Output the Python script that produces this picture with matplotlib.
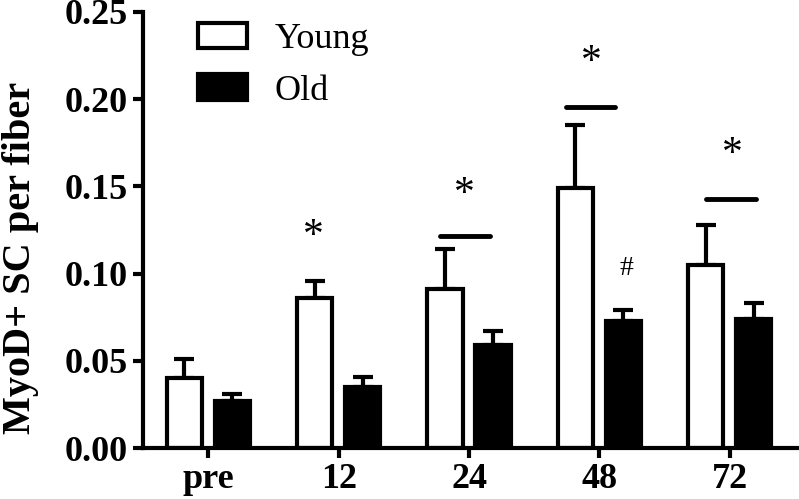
import matplotlib.pyplot as plt
import numpy as np
from matplotlib.patches import Patch

# Data
groups = ['pre', '12', '24', '48', '72']
young = [0.040, 0.086, 0.091, 0.149, 0.105]
young_err = [0.011, 0.010, 0.023, 0.036, 0.023]
old = [0.027, 0.035, 0.059, 0.073, 0.074]
old_err = [0.004, 0.006, 0.008, 0.006, 0.009]

# significance bars (x start, x end, y) and marks (x, y, text)
sig_x0 = [1.78, 2.74, 3.82]
sig_x1 = [2.16, 3.12, 4.20]
sig_y = [0.1217, 0.1953, 0.1426]
mark_x = [0.805, 1.962, 2.935, 4.023, 3.203]
mark_y = [0.121, 0.145, 0.221, 0.168, 0.103]
mark_txt = ['*', '*', '*', '*', '#']

plt.rcParams['font.family'] = ['Liberation Serif', 'DejaVu Serif']

fig = plt.figure(figsize=(7.99, 4.99), dpi=100)
ax = fig.add_axes([0.179, 0.102, 0.821, 0.874])

x = np.arange(len(groups))
w = 0.27
off = 0.184
lw = 3

ax.bar(x - off, young, w, color='white', edgecolor='black', linewidth=lw, zorder=2)
ax.bar(x + off, old, w, color='black', edgecolor='black', linewidth=lw, zorder=2)
ax.errorbar(x - off, young, yerr=[np.zeros(5), young_err], fmt='none', ecolor='black',
            elinewidth=lw, capsize=7.5, capthick=lw, zorder=1)
ax.errorbar(x + off, old, yerr=[np.zeros(5), old_err], fmt='none', ecolor='black',
            elinewidth=lw, capsize=7.5, capthick=lw, zorder=1)

for x0, x1, y in zip(sig_x0, sig_x1, sig_y):
    ax.plot([x0, x1], [y, y], color='black', lw=3.5, solid_capstyle='round')
for mx, my, t in zip(mark_x, mark_y, mark_txt):
    ax.text(mx, my, t, ha='center', va='center', fontsize=30 if t == '*' else 20)

ax.set_xlim(-0.5, 4.53)
ax.set_ylim(0, 0.25)
ax.set_yticks(np.arange(0, 0.26, 0.05))
ax.set_yticklabels([f'{v:.2f}' for v in np.arange(0, 0.26, 0.05)])
ax.set_xticks(x)
ax.set_xticklabels(groups)
for lab in ax.get_xticklabels() + ax.get_yticklabels():
    lab.set_fontweight('bold')
    lab.set_fontsize(26)
ax.tick_params(width=lw, length=7, direction='out', pad=4)
ax.set_ylabel('MyoD+ SC per fiber', fontsize=29, fontweight='bold')
ax.yaxis.set_label_coords(-0.158, 0.436)

for s in ['top', 'right']:
    ax.spines[s].set_visible(False)
for s in ['left', 'bottom']:
    ax.spines[s].set_linewidth(lw)

handles = [Patch(facecolor='white', edgecolor='black', linewidth=lw),
           Patch(facecolor='black', edgecolor='black', linewidth=lw)]
ax.legend(handles, ['Young', 'Old'], loc='upper left', bbox_to_anchor=(0.035, 1.05),
          frameon=False, fontsize=26, handlelength=1.35, handleheight=0.72,
          handletextpad=0.75, labelspacing=0.5)

fig.savefig('out.png', dpi=100)
